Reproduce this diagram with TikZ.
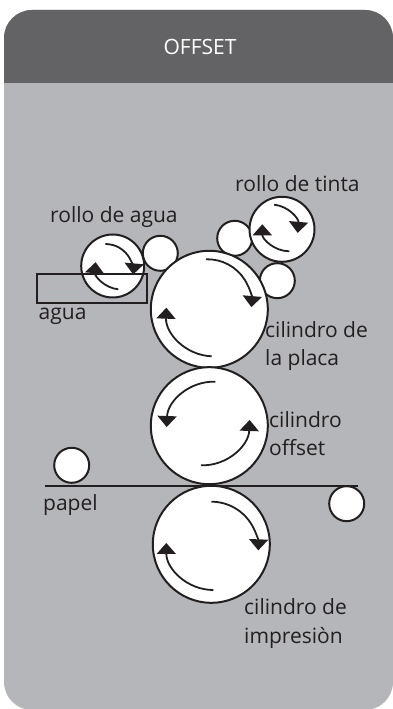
\documentclass[tikz,border=0pt]{standalone}
\usepackage{fontspec}
\setmainfont{Open Sans}
\usetikzlibrary{arrows.meta, positioning}
\definecolor{PanelGrey}{HTML}{B5B6B9}
\definecolor{HeadGrey}{HTML}{636365}
\definecolor{InkBlack}{HTML}{231F20}
\tikzset{
	roller/.style={circle, draw=InkBlack, fill=white, line width=2pt, inner sep=0pt, minimum size=#1},
	rlabel/.style={anchor=base west, inner sep=0pt, text=InkBlack, align=left, font=\fontsize{21}{28.5}\selectfont},
	spin/.style={draw=InkBlack, line width=1.8pt, -{Triangle[length=11pt, width=19pt]}},
}
\begin{document}
\begin{tikzpicture}[x=1pt, y=1pt]
	\useasboundingbox (0,0) rectangle (393,709);
	\fill[PanelGrey, rounded corners=28pt] (4,-1) rectangle (393,699);
	\fill[HeadGrey] (4,626) [rounded corners=28pt] -- (4,699) -- (393,699) [sharp corners] -- (393,626) -- cycle;
	\node[text=white, inner sep=0pt, font=\fontsize{21}{24}\selectfont] (title) at (200,662) {OFFSET};

	\node[roller=35pt] (agua2) at (160.3,455.7) {};
	\node[roller=35pt] (tinta2) at (234.7,470.7) {};
	\node[roller=35pt] (tinta3) at (277.3,428.3) {};
	\node[roller=63pt] (agua1) at (112.7,443) {};
	\node[roller=65pt] (tinta1) at (282,479.7) {};
	\node[roller=117pt] (plate) at (209.3,399.7) {};
	\node[roller=117pt] (offset) at (209.3,283.3) {};
	\node[roller=117pt] (impress) at (211.3,164.7) {};
	\node[roller=35pt] (paperL) at (71.7,243.7) {};
	\node[roller=35pt] (paperR) at (346.7,205.3) {};

	\node[draw=InkBlack, line width=2pt, minimum width=110pt, minimum height=29pt, inner sep=0pt] (tray) at (91.7,420.3) {};

	\coordinate (paperA) at (44.7,223);
	\coordinate (paperB) at (357.7,223);
	\draw[InkBlack, line width=2pt] (paperA) -- (paperB);

	% roller, start offset, angles, radius
	\foreach \rollname/\dx/\dy/\aStart/\aEnd/\rad in {
		plate/-3.3/50/92/-5/44, plate/2.4/-47/268/178/47,
		offset/6/44/88/178/47, offset/-8.3/-39.6/268/358/47,
		impress/0/42.6/90/-2/47, impress/2/-45.7/270/180/47,
		agua1/-7.4/22/90/-5/28, agua1/5.6/-23.3/265/175/25,
		tinta1/-8/24.6/85/-5/26, tinta1/7.3/-22/270/180/27}
		\draw[spin] (\rollname.center) ++(\dx,\dy) arc (\aStart:\aEnd:\rad);

	\node[rlabel] (lblTinta) at (235,517) {rollo de tinta};
	\node[rlabel] (lblAgua) at (50,486.3) {rollo de agua};
	\node[rlabel] (lblTray) at (38.5,389) {agua};
	\node[rlabel] (lblPlate) at (265,371) {cilindro de};
	\node[rlabel] (lblPlate2) at (265,343) {la placa};
	\node[rlabel] (lblOffset) at (269,281) {cilindro};
	\node[rlabel] (lblOffset2) at (269,253) {offset};
	\node[rlabel] (lblPaper) at (43,198.3) {papel};
	\node[rlabel] (lblImpress) at (244,94) {cilindro de};
	\node[rlabel] (lblImpress2) at (244,65) {impresiòn};
\end{tikzpicture}
\end{document}
